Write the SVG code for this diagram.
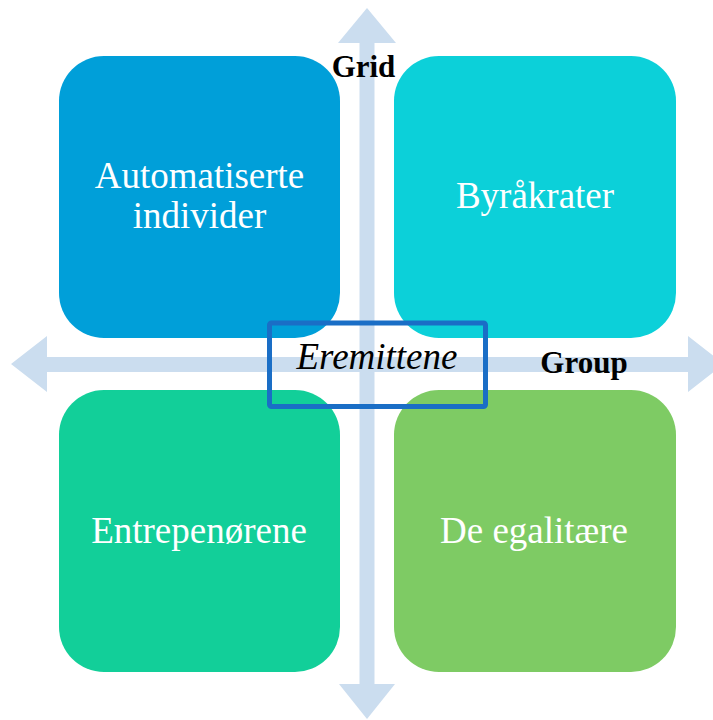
<svg xmlns="http://www.w3.org/2000/svg" width="713" height="720" viewBox="0 0 713 720">
<style>
.arrow{fill:#cbddef}
.box text{font-family:"Liberation Serif","Times New Roman",serif;font-size:37px;fill:#ffffff;text-anchor:middle}
.axis{font-family:"Liberation Serif","Times New Roman",serif;font-size:31px;font-weight:bold;fill:#000000;text-anchor:middle}
</style>
<rect width="713" height="720" fill="#ffffff"/>
<g id="connectors">
<polygon class="arrow" points="367,8 396,43 374.5,43 374.5,684 395,684 367,719 339,684 359.5,684 359.5,43 338,43"/>
<polygon class="arrow" points="11,364 47,336 47,357 688,357 688,336 724,364 688,392 688,372 47,372 47,392"/>
</g>
<g id="automatiserte" class="box">
<rect x="59" y="56" width="281" height="282" rx="45" fill="#009fd9"/>
<text x="199.5" y="188">Automatiserte</text>
<text x="199.5" y="228">individer</text>
</g>
<g id="byrakrater" class="box">
<rect x="394" y="56" width="282" height="282" rx="45" fill="#0cd0d9"/>
<text x="535" y="208">Byråkrater</text>
</g>
<g id="entreprenorene" class="box">
<rect x="59" y="390" width="281" height="282" rx="45" fill="#12cf99"/>
<text x="199" y="543">Entrepenørene</text>
</g>
<g id="egalitaere" class="box">
<rect x="394" y="390" width="282" height="282" rx="45" fill="#7ecb64"/>
<text x="534" y="543">De egalitære</text>
</g>
<g id="eremittene">
<rect x="269.5" y="323" width="216" height="83.5" rx="2" fill="none" stroke="#1a6ec6" stroke-width="5"/>
<text x="377" y="369" font-family="'Liberation Serif','Times New Roman',serif" font-size="37" font-style="italic" fill="#000000" text-anchor="middle">Eremittene</text>
</g>
<g id="labels">
<text class="axis" x="363.5" y="77">Grid</text>
<text class="axis" x="584" y="373">Group</text>
</g>
</svg>
